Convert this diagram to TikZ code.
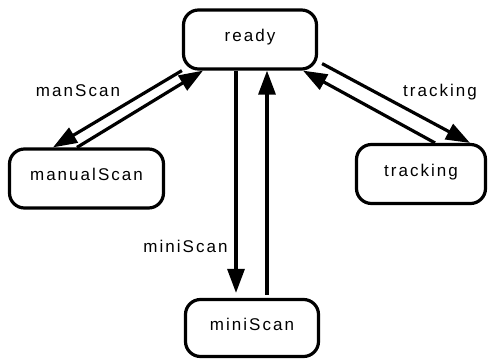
\documentclass[tikz,border=0pt]{standalone}
\usepackage{fontspec}
\setmainfont{Liberation Sans}[LetterSpace=12]
\usetikzlibrary{arrows.meta}

\begin{document}
\begin{tikzpicture}
	[x=1pt,y=-1pt,
	 state/.style={draw,rounded corners=15pt,line width=3.2pt,minimum height=59pt,
	   inner sep=0pt,text height=12pt,text depth=8pt,font=\fontsize{17}{20}\selectfont},
	 translabel/.style={anchor=base,font=\fontsize{17}{20}\selectfont},
	 trans/.style={line width=3.2pt,->},
	 >={Triangle[length=24pt 0,width=17pt 0]}]
    \useasboundingbox (0,0) rectangle (488,360);

    \node[state,minimum width=133pt] (ready) at (250,39.5) {ready};
    \node[state,minimum width=154pt] (manual) at (86.5,178.5) {manualScan};
    \node[state,minimum width=129pt] (track) at (421,174) {tracking};
    \node[state,minimum width=133pt,minimum height=57pt] (mini) at (252,328) {miniScan};

    \node[translabel] (lmanual) at (78,96.5) {manScan};
    \node[translabel] (ltrack) at (440,96.5) {tracking};
    \node[translabel] (lmini) at (185.5,252.5) {miniScan};

    \draw[trans] (ready.south west) -- ([xshift=-33.5pt]manual.north);
    \draw[trans] ([xshift=-9.5pt]manual.north) -- ([xshift=-47pt]ready.south);
    \draw[trans,shorten >=5pt] ([xshift=-14pt]ready.south) -- ([xshift=-14pt]ready.south |- mini.north);
    \draw[trans,shorten <=3pt] ([xshift=17pt]ready.south |- mini.north) -- ([xshift=17pt]ready.south);
    \draw[trans] ([xshift=4pt,yshift=7pt]ready.south east) -- ([xshift=49pt]track.north);
    \draw[trans] ([xshift=14pt]track.north) -- ([xshift=53pt]ready.south);

\end{tikzpicture}
\end{document}
